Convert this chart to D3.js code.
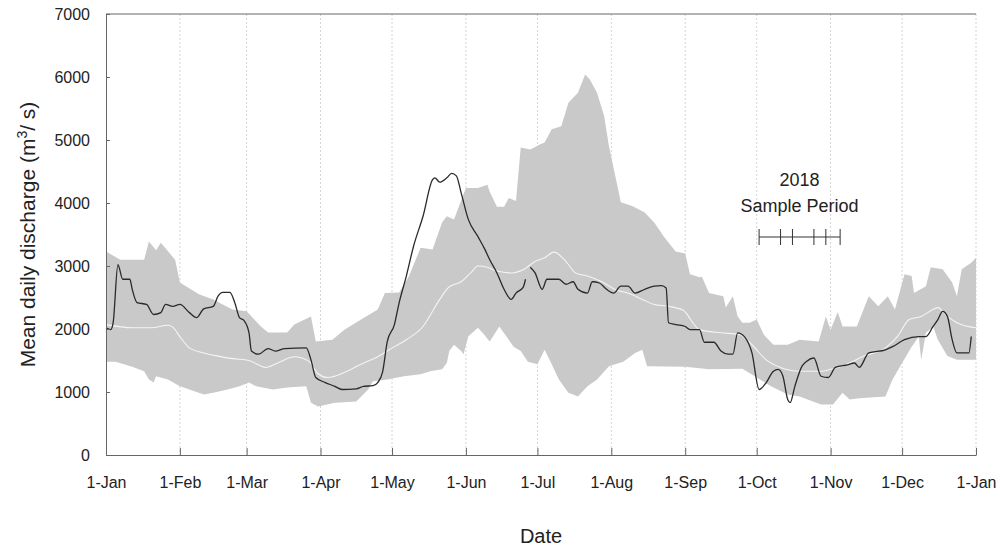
<!DOCTYPE html>
<html>
<head>
<meta charset="utf-8">
<script src="https://cdn.jsdelivr.net/npm/d3@7"></script>
<style>
    body { margin: 0; background: #fff; }
    svg { display: block; font-family: Arial, "Liberation Sans", sans-serif; }
    .axis path, .axis line { stroke: #666; }
    .axis text { fill: #222; font-size: 16px; }
</style>
</head>
<body>
<div id="chart"></div>
<script>
// den v roce (0 = 1. ledna) a hodnoty prutoku v m3/s
const maxDays = [0, 6, 16, 18, 21, 23, 29, 31, 39, 45, 53, 59, 65, 68, 76, 79, 86, 88, 95, 100,
    107, 114, 117, 123, 127, 132, 137, 141, 143, 146, 148, 151, 156, 160, 161, 164, 167, 169, 172, 174,
    178, 182, 184, 187, 191, 194, 198, 201, 203, 206, 209, 211, 214, 216, 221, 226, 230, 234, 239, 243,
    245, 249, 250, 253, 259, 260, 263, 265, 267, 270, 273, 276, 280, 286, 291, 299, 302, 304, 307, 309,
    315, 320, 324, 328, 331, 335, 338, 339, 344, 346, 351, 355, 357, 359, 363, 365];
const maxValues = [3230, 3100, 3100, 3390, 3250, 3370, 3100, 2740, 2550, 2470, 2310, 2280, 2040, 1945, 1945, 2070, 2200, 1800, 1830, 1990,
    2150, 2310, 2570, 2580, 2830, 3290, 3260, 3690, 3790, 3740, 3940, 4240, 4240, 4290, 4180, 3940, 3940, 4080, 4030, 4880,
    4850, 4930, 4960, 5170, 5220, 5590, 5750, 6040, 5960, 5750, 5380, 4900, 4370, 4010, 3950, 3850, 3690, 3470, 3230, 3200,
    2870, 2820, 2830, 2570, 2520, 2340, 2520, 2200, 2100, 2100, 2150, 1910, 1750, 1750, 1830, 1800, 2200, 1990, 2270, 2040,
    2040, 2520, 2360, 2520, 2310, 2870, 2840, 2570, 2680, 2980, 2950, 2740, 2520, 2950, 3050, 3130];

const minDays = [0, 4, 11, 16, 18, 20, 21, 26, 31, 35, 41, 45, 51, 56, 60, 63, 70, 76, 84, 86,
    89, 96, 105, 110, 112, 118, 125, 132, 136, 141, 143, 144, 146, 149, 150, 152, 156, 158, 161, 162,
    165, 168, 171, 174, 177, 181, 184, 186, 190, 194, 198, 202, 206, 211, 217, 222, 225, 227, 243, 253,
    267, 273, 279, 286, 291, 300, 305, 309, 312, 316, 327, 330, 334, 338, 341, 342, 344, 347, 349, 353,
    357, 365];
const minValues = [1480, 1480, 1400, 1330, 1200, 1150, 1250, 1200, 1090, 1040, 960, 990, 1040, 1090, 1150, 1090, 1040, 1070, 1090, 830,
    770, 830, 850, 1040, 1170, 1200, 1250, 1280, 1330, 1360, 1460, 1650, 1750, 1650, 1600, 1880, 2020, 1940, 1800, 1860,
    2040, 1880, 1720, 1650, 1480, 1440, 1670, 1520, 1200, 990, 930, 1090, 1200, 1410, 1480, 1620, 1670, 1410, 1400, 1360,
    1370, 1230, 1090, 960, 930, 800, 800, 990, 880, 900, 930, 1200, 1460, 1720, 1880, 1510, 1940, 2040, 1830, 1570,
    1510, 1510];

const meanDays = [0, 11, 19, 26, 28, 31, 35, 41, 47, 53, 60, 67, 72, 79, 85, 89, 93, 100, 107, 114,
    121, 126, 133, 140, 144, 149, 153, 156, 160, 164, 170, 175, 180, 184, 188, 193, 197, 202, 208, 214,
    219, 225, 230, 236, 242, 249, 258, 266, 271, 277, 283, 291, 300, 304, 310, 318, 327, 332, 337, 342,
    347, 349, 353, 357, 365];
const meanValues = [2070, 2020, 2020, 2060, 2030, 1880, 1700, 1620, 1570, 1530, 1500, 1390, 1460, 1560, 1490, 1290, 1230, 1310, 1440, 1560,
    1720, 1830, 2040, 2470, 2670, 2750, 2890, 3000, 2980, 2920, 2890, 2940, 3070, 3130, 3220, 3070, 2890, 2840, 2750, 2620,
    2570, 2470, 2390, 2360, 2300, 1990, 1940, 1910, 1750, 1510, 1390, 1330, 1330, 1360, 1430, 1570, 1700, 1880, 2150, 2200,
    2310, 2340, 2200, 2100, 2020];

// rok 2018, null = chybejici data
const obsDays = [0, 2, 3, 5, 7, 10, 11, 13, 17, 20, 23, 25, 28, 31, 35, 38, 41, 45, 47, 49,
    52, 54, 56, 58, 60, 61, 64, 68, 71, 75, 84, 86, 88, 92, 96, 99, 105, 108, 112, 114,
    116, 118, 121, 123, 126, 129, 133, 137, 138, 140, 143, 145, 147, 149, 152, 156, 159, 161, 164, 167,
    170, 172, 175, 176, 177, 178, 180, 183, 185, 190, 193, 196, 198, 202, 204, 207, 210, 213, 216, 219,
    222, 226, 230, 233, 235, 236, 239, 243, 245, 249, 251, 255, 258, 261, 263, 265, 268, 271, 274, 277,
    280, 282, 284, 286, 287, 289, 292, 294, 297, 300, 303, 306, 311, 314, 316, 320, 327, 330, 335, 341,
    344, 347, 349, 351, 353, 355, 357, 362, 363];
const obsValues = [2020, 1990, 2100, 3020, 2790, 2790, 2630, 2420, 2390, 2230, 2260, 2390, 2360, 2390, 2260, 2180, 2320, 2360, 2520, 2580,
    2580, 2420, 2180, 2130, 1940, 1650, 1600, 1690, 1650, 1690, 1700, 1510, 1230, 1150, 1090, 1040, 1050, 1090, 1100, 1150,
    1310, 1800, 2070, 2420, 2840, 3310, 3790, 4370, 4400, 4330, 4400, 4470, 4430, 4160, 3740, 3470, 3260, 3100, 2890, 2630,
    2470, 2570, 2660, 2790, null, 2980, 2890, 2630, 2790, 2790, 2710, 2750, 2630, 2570, 2750, 2730, 2630, 2570, 2680, 2680,
    2570, 2630, 2680, 2690, 2650, 2100, 2070, 2040, 1990, 1990, 1790, 1790, 1650, 1600, 1600, 1940, 1870, 1620, 1040, 1150,
    1330, 1360, 1250, 880, 830, 1090, 1410, 1490, 1540, 1250, 1230, 1390, 1430, 1460, 1390, 1620, 1670, 1720, 1830, 1880,
    1880, 2040, 2150, 2280, 2200, 1830, 1620, 1620, 1880];

// data odberu vzorku (2018)
const sampleDays = [274, 283, 288, 297, 302, 308];

const yTicks = [0, 1000, 2000, 3000, 4000, 5000, 6000, 7000];

const width = 1000;
const height = 548;
const margin = { top: 14, right: 24, bottom: 93, left: 106 };

const start = new Date(2018, 0, 1);
const end = new Date(2019, 0, 1);
const toDate = d => d3.timeDay.offset(start, d);

const svg = d3.select("#chart")
    .append("svg")
    .attr("width", width)
    .attr("height", height);

const x = d3.scaleTime()
    .domain([start, end])
    .range([margin.left, width - margin.right]);

const y = d3.scaleLinear()
    .domain([0, 7000])
    .range([height - margin.bottom, margin.top]);

const months = d3.timeMonth.range(start, d3.timeDay.offset(end, 1));

// svisla teckovana mrizka
svg.append("g")
    .selectAll("line")
    .data(months.slice(1))
    .join("line")
    .attr("x1", d => x(d)).attr("x2", d => x(d))
    .attr("y1", y(7000)).attr("y2", y(0))
    .attr("stroke", "#d4d4d4")
    .attr("stroke-dasharray", "2,2");

// pas min-max
const upper = maxDays.map((d, i) => [toDate(d), maxValues[i]]);
const lower = minDays.map((d, i) => [toDate(d), minValues[i]]).reverse();
const bandLine = d3.line().x(d => x(d[0])).y(d => y(d[1]));

svg.append("path")
    .attr("d", bandLine(upper.concat(lower)) + "Z")
    .attr("fill", "#c9c9c9");

// prumer (bila cara)
const meanData = meanDays.map((d, i) => ({ date: toDate(d), value: meanValues[i] }));
const line = d3.line()
    .defined(d => d.value !== null)
    .curve(d3.curveMonotoneX)
    .x(d => x(d.date))
    .y(d => y(d.value));

svg.append("path")
    .datum(meanData)
    .attr("d", line)
    .attr("fill", "none")
    .attr("stroke", "#f4f4f4")
    .attr("stroke-width", 1.1);

// rok 2018 (cerna cara)
const obsData = obsDays.map((d, i) => ({ date: toDate(d), value: obsValues[i] }));
svg.append("path")
    .datum(obsData)
    .attr("d", line)
    .attr("fill", "none")
    .attr("stroke", "#2a2a2a")
    .attr("stroke-width", 1.3)
    .attr("stroke-linejoin", "round");

// osy
svg.append("g")
    .attr("class", "axis")
    .attr("transform", `translate(0, ${y(0)})`)
    .call(d3.axisBottom(x)
        .tickValues(months)
        .tickFormat(d3.timeFormat("%-d-%b"))
        .tickSizeInner(-7)
        .tickSizeOuter(0)
        .tickPadding(22));

svg.append("g")
    .attr("class", "axis")
    .attr("transform", `translate(${margin.left}, 0)`)
    .call(d3.axisLeft(y)
        .tickValues(yTicks)
        .tickFormat(d3.format("d"))
        .tickSizeInner(-4)
        .tickSizeOuter(0)
        .tickPadding(16));

// horni okraj
svg.append("line")
    .attr("x1", x(start)).attr("x2", x(end))
    .attr("y1", y(7000)).attr("y2", y(7000))
    .attr("stroke", "#666");

// popisky os
svg.append("text")
    .attr("x", (x(start) + x(end)) / 2)
    .attr("y", 543)
    .attr("text-anchor", "middle")
    .attr("font-size", 20)
    .attr("fill", "#222")
    .text("Date");

const yLabel = svg.append("text")
    .attr("transform", `translate(35, ${(y(0) + y(7000)) / 2}) rotate(-90)`)
    .attr("text-anchor", "middle")
    .attr("font-size", 21)
    .attr("fill", "#222");
yLabel.append("tspan").text("Mean daily discharge (m");
yLabel.append("tspan").attr("font-size", 14).attr("dy", -8).text("3");
yLabel.append("tspan").attr("dy", 8).text("/ s)");

// obdobi odberu vzorku
const sampleY = 237;
const sx = sampleDays.map(d => x(toDate(d)));
const mid = (sx[0] + sx[sx.length - 1]) / 2;

svg.append("line")
    .attr("x1", sx[0]).attr("x2", sx[sx.length - 1])
    .attr("y1", sampleY).attr("y2", sampleY)
    .attr("stroke", "#333");

svg.append("g")
    .selectAll("line")
    .data(sx)
    .join("line")
    .attr("x1", d => d).attr("x2", d => d)
    .attr("y1", sampleY - 8).attr("y2", sampleY + 8)
    .attr("stroke", "#333");

svg.append("text")
    .attr("x", mid).attr("y", 186)
    .attr("text-anchor", "middle")
    .attr("font-size", 18)
    .attr("fill", "#222")
    .text("2018");

svg.append("text")
    .attr("x", mid).attr("y", 212)
    .attr("text-anchor", "middle")
    .attr("font-size", 18)
    .attr("fill", "#222")
    .text("Sample Period");
</script>
</body>
</html>
